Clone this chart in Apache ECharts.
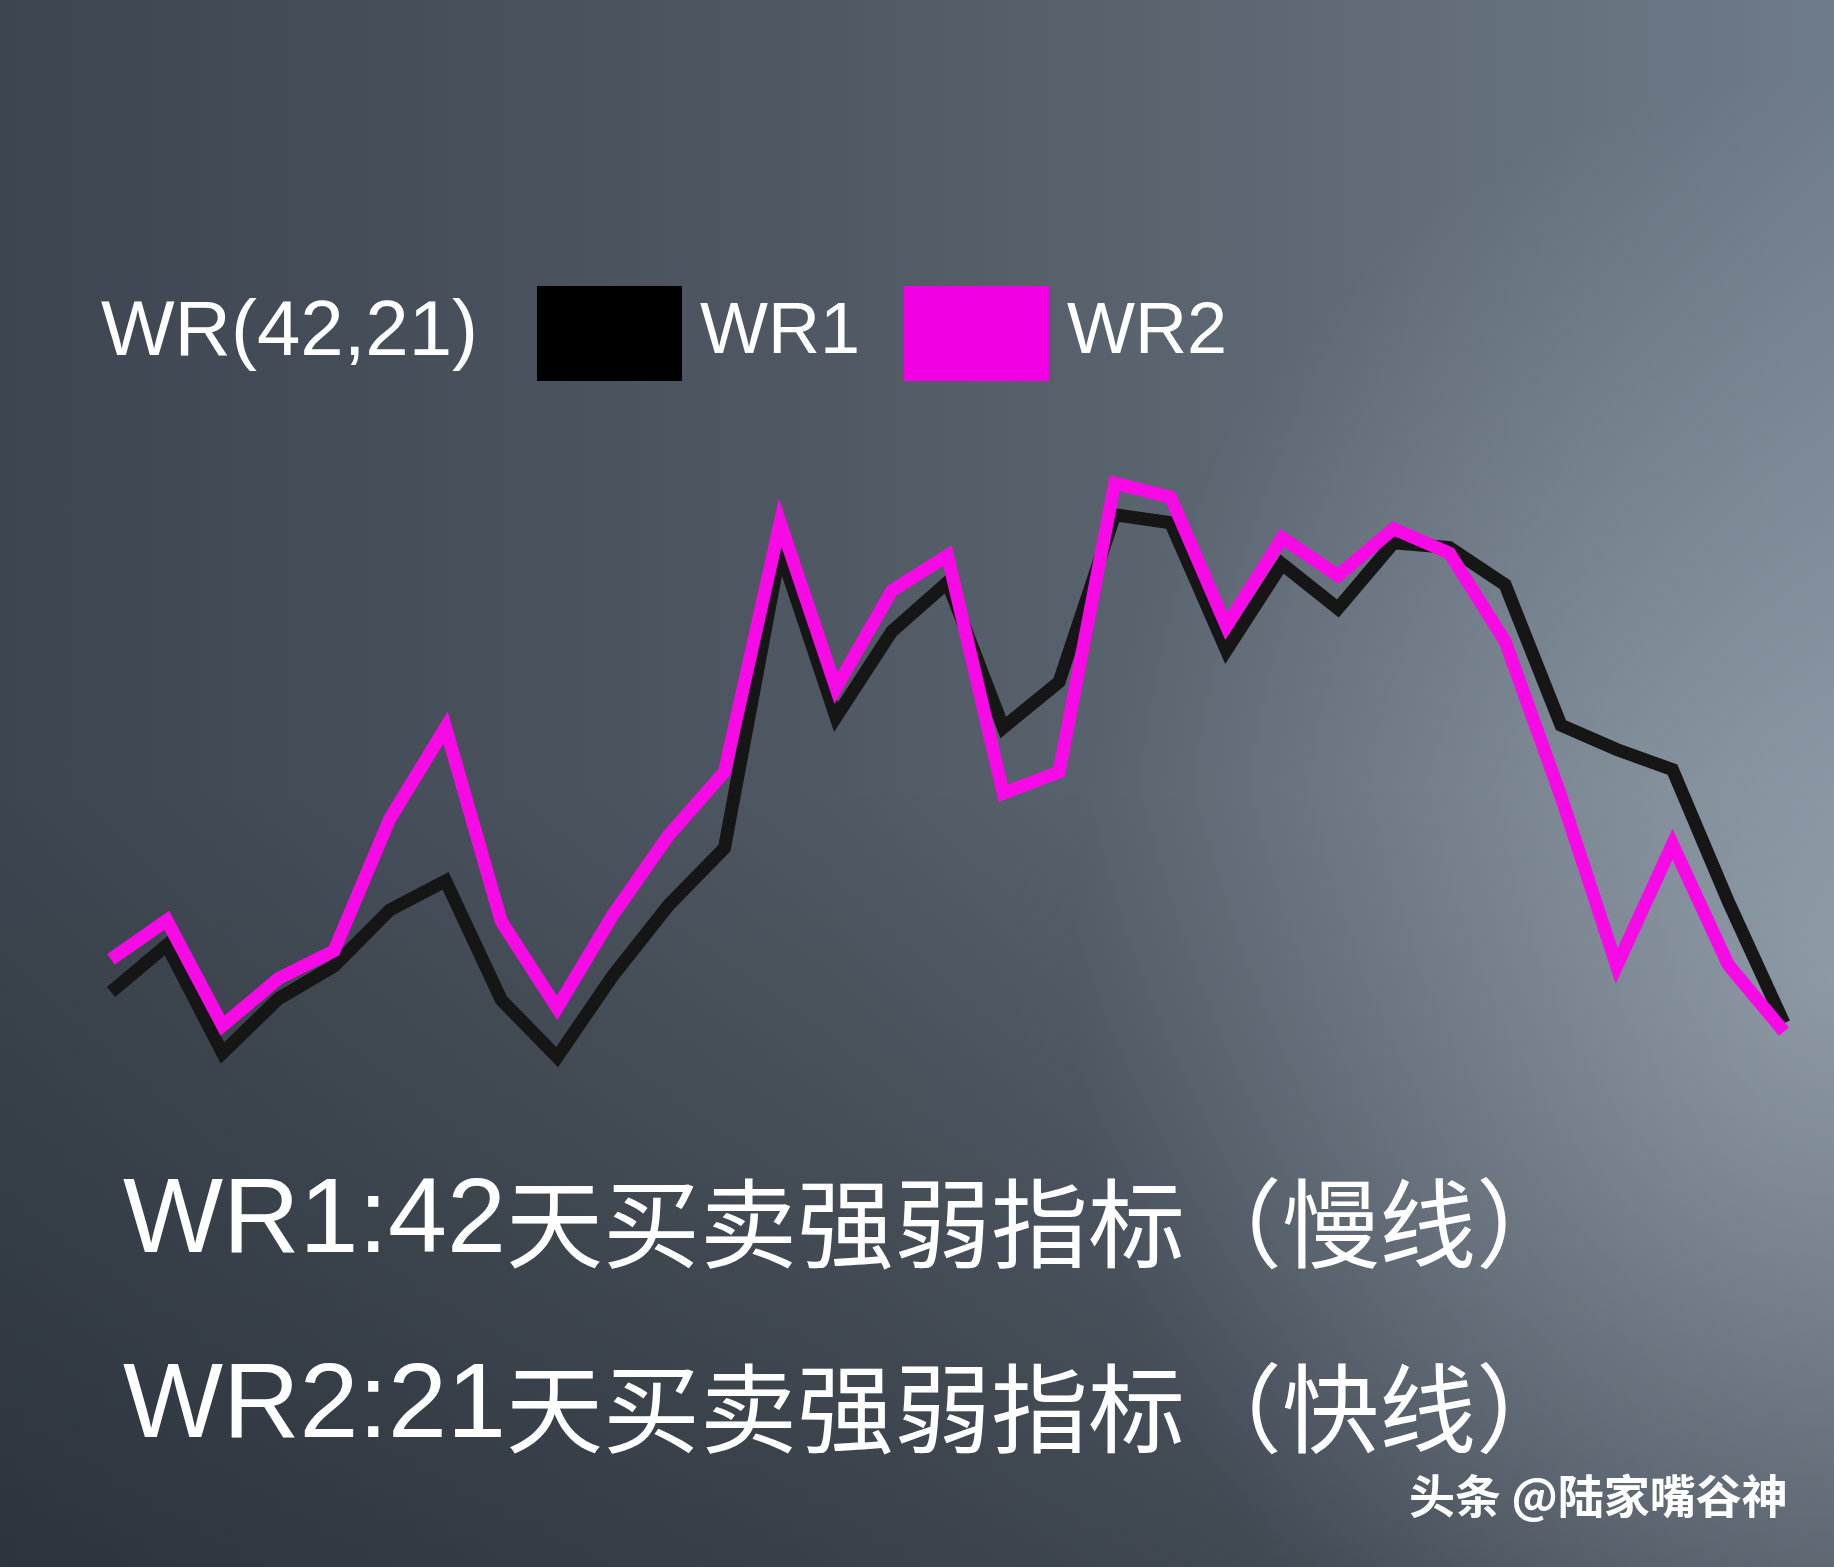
<!DOCTYPE html>
<html>
<head>
<meta charset="utf-8">
<script src="https://cdn.jsdelivr.net/npm/echarts@6/dist/echarts.min.js"></script>
<style>
html, body { margin:0; padding:0; }
body {
  width:1834px; height:1567px; overflow:hidden;
  background:
    radial-gradient(ellipse 760px 900px at 100% 62%, rgba(175,186,198,0.55), rgba(175,186,198,0) 100%),
    linear-gradient(to bottom, rgba(0,0,0,0) 50%, rgba(18,22,30,0.38) 100%),
    linear-gradient(to right, #3d4650 0%, #505963 45%, #6e7b88 100%);
}
#chart { width:1834px; height:1567px; }
</style>
</head>
<body>
<div id="chart"></div>
<script>
// ---- data ----
const categories = ['1','2','3','4','5','6','7','8','9','10','11','12','13','14','15','16','17','18','19','20','21','22','23','24','25','26','27','28','29','30','31'];
const wr1 = [13.8, 21.5, 3.8, 12.7, 18.1, 27.3, 32.1, 12.5, 3.1, 16.5, 28.1, 37.5, 86.5, 59.0, 73.1, 81.2, 57.3, 64.8, 92.3, 91.0, 70.0, 84.2, 76.9, 87.7, 86.9, 80.8, 57.7, 53.7, 50.4, 28.7, 8.7];
const wr2 = [19.2, 25.6, 8.3, 16.0, 20.6, 42.3, 57.3, 25.4, 11.2, 26.5, 39.6, 50.0, 91.0, 63.8, 79.8, 85.6, 46.5, 50.0, 97.5, 95.2, 74.0, 88.5, 82.3, 90.0, 86.0, 71.5, 46.0, 18.1, 38.1, 18.3, 7.3];
const seriesNames = ['WR1', 'WR2'];
const titleText = 'WR(42,21)';
const notePrefix = ['WR1:42', 'WR2:21'];
const noteBody = ['天买卖强弱指标', '天买卖强弱指标'];
const noteParen = ['（慢线）', '（快线）'];
const watermark = '头条 @陆家嘴谷神';

const chart = echarts.init(document.getElementById('chart'), null, { renderer: 'canvas' });
const latin = '"Liberation Sans", Arial, "Noto Sans CJK SC", sans-serif';

function noteText(i, top) {
  return {
    type: 'text', left: 123, top: top, z: 10,
    style: {
      text: '{a|' + notePrefix[i] + '}{b|' + noteBody[i] + '}{p|' + noteParen[i] + '}',
      fill: '#ffffff',
      shadowColor: 'rgba(0,0,0,0.35)', shadowBlur: 3, shadowOffsetX: 1, shadowOffsetY: 1,
      rich: {
        a: { fontSize: 106, fontFamily: '"Liberation Sans", Arial', fill: '#ffffff', lineHeight: 112 },
        b: { fontSize: 97, fontFamily: '"Noto Sans CJK SC"', fill: '#ffffff', lineHeight: 112 },
        p: { fontSize: 97, fontFamily: '"Noto Sans CJK TC", "Noto Sans CJK SC"', fill: '#ffffff', lineHeight: 112 }
      }
    }
  };
}

chart.setOption({
  animation: false,
  backgroundColor: 'transparent',
  grid: { left: 111, right: 50, top: 468, bottom: 491, containLabel: false },
  xAxis: { type: 'category', data: categories, boundaryGap: false, show: false },
  yAxis: { type: 'value', min: 0, max: 100, show: false },
  legend: {
    data: [{ name: seriesNames[0], icon: 'rect' }, { name: seriesNames[1], icon: 'rect' }],
    left: 537, top: 286, padding: 0,
    itemWidth: 145, itemHeight: 95, itemGap: 44,
    selectedMode: false,
    textStyle: { color: '#ffffff', fontSize: 72, fontFamily: latin, padding: [12, 0, 0, 13] }
  },
  graphic: [
    { type: 'text', left: 101, top: 294, z: 10,
      style: { text: titleText, fill: '#ffffff', font: '78px ' + latin } },
    noteText(0, 1170),
    noteText(1, 1355),
    { type: 'text', left: 1409, top: 1473, z: 10,
      style: { text: watermark, fill: '#ffffff', font: 'bold 46px "Noto Sans CJK SC", sans-serif',
               shadowColor: 'rgba(0,0,0,0.6)', shadowBlur: 2, shadowOffsetX: 2, shadowOffsetY: 2 } }
  ],
  series: [
    { name: seriesNames[0], type: 'line', data: wr1, showSymbol: false, z: 2,
      itemStyle: { color: '#000000' },
      lineStyle: { color: '#161616', width: 13, join: 'miter' } },
    { name: seriesNames[1], type: 'line', data: wr2, showSymbol: false, z: 3,
      itemStyle: { color: '#f000e2' },
      lineStyle: { color: '#f70ae6', width: 13, join: 'miter' } }
  ]
});
</script>
</body>
</html>
